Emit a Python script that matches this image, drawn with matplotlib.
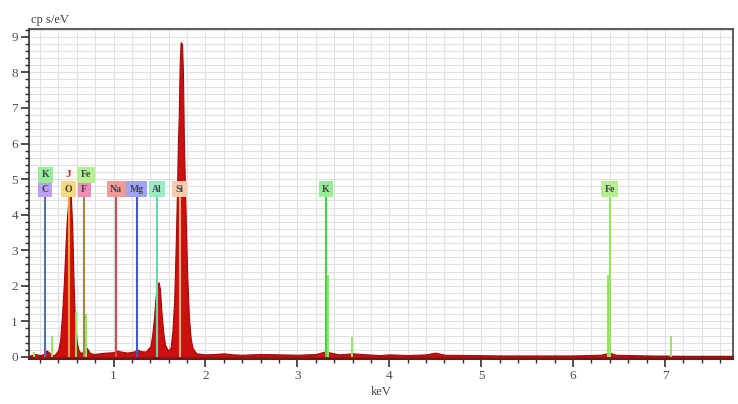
import matplotlib
matplotlib.use("Agg")
import matplotlib.pyplot as plt
from matplotlib.ticker import MultipleLocator

# ---- data ----
energy = [0.08, 0.10, 0.15, 0.20, 0.24, 0.27, 0.30, 0.33, 0.36, 0.40, 0.42, 0.44, 0.46, 0.475,
          0.49, 0.505, 0.52, 0.535, 0.55, 0.565, 0.58, 0.60, 0.62, 0.65, 0.68, 0.71, 0.74, 0.78,
          0.85, 0.92, 1.00, 1.04, 1.08, 1.15, 1.22, 1.26, 1.30, 1.35, 1.40, 1.42, 1.44, 1.455,
          1.47, 1.49, 1.505, 1.52, 1.54, 1.56, 1.59, 1.62, 1.64, 1.66, 1.675, 1.69, 1.70, 1.71,
          1.72, 1.73, 1.745, 1.755, 1.765, 1.775, 1.79, 1.80, 1.82, 1.84, 1.86, 1.90, 2.0, 2.1,
          2.2, 2.3, 2.4, 2.6, 2.8, 3.0, 3.2, 3.3, 3.36, 3.45, 3.6, 3.7, 3.9, 4.0, 4.2, 4.4, 4.5,
          4.6, 4.9, 5.2, 5.6, 6.0, 6.3, 6.4, 6.46, 6.8, 7.2, 7.75]
counts = [0.02, 0.05, 0.08, 0.05, 0.08, 0.18, 0.12, 0.05, 0.06, 0.2, 0.5, 1.2, 2.1, 3.0,
          3.8, 4.3, 4.7, 4.5, 3.7, 2.1, 1.0, 0.4, 0.18, 0.10, 0.20, 0.25, 0.12, 0.08,
          0.10, 0.12, 0.13, 0.18, 0.15, 0.12, 0.15, 0.20, 0.16, 0.15, 0.3, 0.6, 1.1, 1.6,
          2.0, 2.1, 1.9, 1.3, 0.7, 0.35, 0.18, 0.25, 0.7, 1.6, 3.0, 4.6, 6.0, 6.8,
          8.3, 8.85, 8.8, 8.0, 6.1, 5.0, 3.4, 2.4, 1.1, 0.5, 0.25, 0.10, 0.07, 0.08,
          0.10, 0.07, 0.06, 0.08, 0.07, 0.06, 0.08, 0.15, 0.12, 0.07, 0.10, 0.08, 0.05, 0.07,
          0.05, 0.07, 0.12, 0.06, 0.05, 0.04, 0.04, 0.04, 0.06, 0.12, 0.06, 0.04, 0.03, 0.03]

# element marker lines
elements = ["C", "O", "F", "Na", "Mg", "Al", "Si", "K", "Fe"]
element_kev = [0.25, 0.51, 0.68, 1.03, 1.25, 1.47, 1.72, 3.31, 6.40]
upper_labels = ["K", "Fe"]
upper_kev = [0.26, 0.70]

# light green sticks
stick_kev = [0.13, 0.33, 0.59, 0.70, 3.33, 3.59, 6.38, 7.06]
stick_height = [0.15, 0.6, 1.25, 1.2, 2.3, 0.55, 2.3, 0.6]

x_ticks = [1, 2, 3, 4, 5, 6, 7]
y_ticks = [0, 1, 2, 3, 4, 5, 6, 7, 8, 9]

# ---- styling ----
line_colors = {"C": "#5a6fb0", "O": "#e8a030", "F": "#a08848", "Na": "#c85050",
               "Mg": "#4858c0", "Al": "#60dca8", "Si": "#f0b080", "K": "#48d048",
               "Fe": "#98e060"}
box_colors = {"C": "#b9a0f2", "O": "#f6d880", "F": "#f08cb8", "Na": "#f29a96",
              "Mg": "#a0a4f4", "Al": "#98ecc4", "Si": "#f8cca8", "K": "#98ec98",
              "Fe": "#b4f090"}

serif = "Liberation Serif"
fig = plt.figure(figsize=(7.38, 4.04), dpi=100)
ax = fig.add_axes([29 / 738, 45 / 404, 704 / 738, 330 / 404])
ax.set_xlim(0.08, 7.74)
ax.set_ylim(-0.06, 9.22)

# grid
ax.xaxis.set_minor_locator(MultipleLocator(0.2))
ax.yaxis.set_minor_locator(MultipleLocator(0.2))
ax.set_xticks(x_ticks)
ax.set_yticks(y_ticks)
ax.grid(which="both", color="#e0e0e0", linewidth=0.8, zorder=0)
ax.set_axisbelow(True)

# spectrum
ax.fill_between(energy, 0, counts, color="#cc1010", linewidth=0.8,
                edgecolor="#a00808", zorder=2)

# green sticks
ax.vlines(stick_kev, 0, stick_height, color="#90e860", linewidth=1.4, zorder=3)

# element lines and labels
label_y = 4.72
box = dict(boxstyle="square,pad=0.35", ec="none")
for el, kev in zip(elements, element_kev):
    ax.vlines(kev, 0, label_y, color=line_colors[el], linewidth=1.5, zorder=4)
    ax.text(kev, label_y, el, ha="center", va="center", fontsize=7,
            family=serif, fontweight="bold", color="#404050", zorder=5,
            bbox=dict(box, fc=box_colors[el]))
for el, kev in zip(upper_labels, upper_kev):
    ax.text(kev, 5.12, el, ha="center", va="center", fontsize=7,
            family=serif, fontweight="bold", color="#404050", zorder=5,
            bbox=dict(box, fc=box_colors[el]))
ax.text(0.51, 5.14, "J", ha="center", va="center", fontsize=8, family=serif,
        fontweight="bold", color="#e02020", zorder=5)

# axes appearance
for s in ["top", "right"]:
    ax.spines[s].set_color("#404040")
    ax.spines[s].set_linewidth(1.2)
ax.spines["left"].set_color("#303030")
ax.spines["left"].set_linewidth(1.2)
ax.spines["bottom"].set_color("#6a1a1a")
ax.spines["bottom"].set_linewidth(1.5)
ax.tick_params(which="major", direction="out", length=6, width=1.2, color="#303030",
               labelsize=9.5, labelcolor="#505050", pad=2)
ax.tick_params(which="minor", direction="out", length=3, width=1.0, color="#303030")
for lab in ax.get_xticklabels() + ax.get_yticklabels():
    lab.set_family(serif)

fig.text(31 / 738, 1 - 20 / 404, "cp s/eV", ha="left", va="center", fontsize=9,
         family=serif, color="#404040")
fig.text(381 / 738, 1 - 392 / 404, "keV", ha="center", va="center", fontsize=9,
         family=serif, color="#404040")

fig.savefig("out.png", dpi=100, facecolor="white")
